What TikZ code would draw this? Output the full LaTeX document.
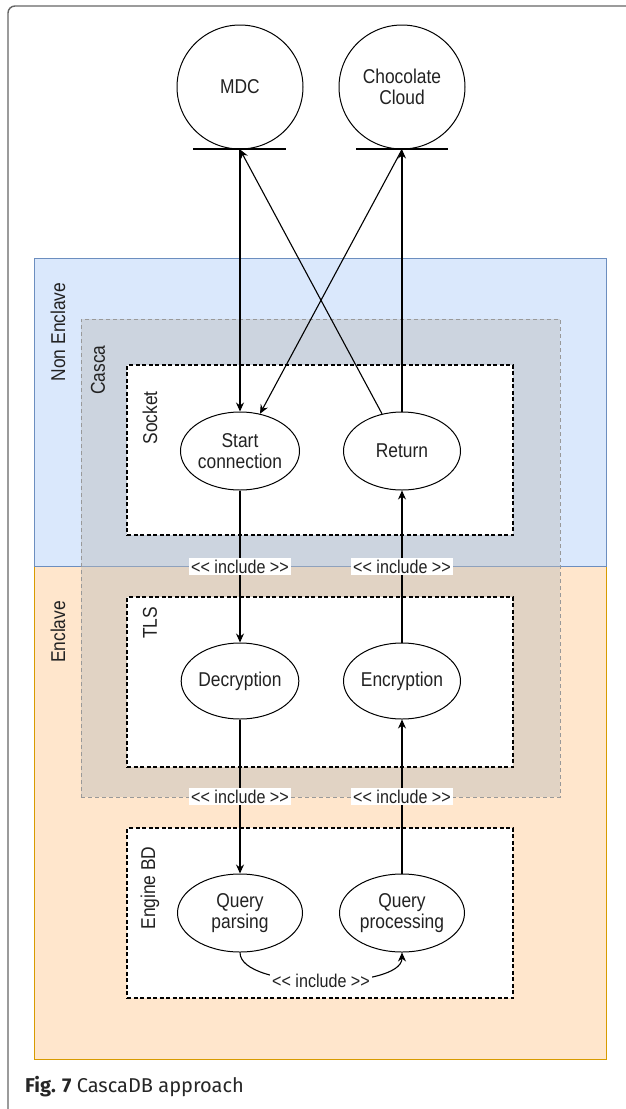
\documentclass[tikz,border=0pt]{standalone}
\usepackage{fontspec}
\setmainfont{Liberation Sans}
\newfontfamily\capfont{Fira Sans}
\usetikzlibrary{shapes.geometric,arrows.meta}

\definecolor{nonfill}{HTML}{DAE8FC}
\definecolor{nonline}{HTML}{6C8EBF}
\definecolor{encfill}{HTML}{FFE6CC}
\definecolor{encline}{HTML}{D79B00}
\definecolor{cascagray}{HTML}{BBBBBB}
\definecolor{cascaline}{HTML}{999999}
\definecolor{ink}{HTML}{222222}
\definecolor{framegray}{HTML}{666666}

% narrow diagram lettering
\newcommand{\dfont}[1]{\addfontfeature{FakeStretch=0.87}\fontsize{#1}{#1}\selectfont}
\newcommand{\incltext}{<{}< include >{}>}

\tikzset{
  region/.style={draw, line width=1pt, inner sep=0pt},
  cascabox/.style={draw=cascaline, fill=cascagray, fill opacity=0.43,
    dash pattern=on 4pt off 3pt, line width=1pt, inner sep=0pt},
  pkgbox/.style={draw=black, fill=white, dash pattern=on 4pt off 2.5pt,
    line width=1.2pt, inner sep=0pt},
  usecase/.style={ellipse, draw=black, fill=white, line width=1pt, inner sep=0pt,
    minimum width=117pt, minimum height=78pt, align=center, text=ink,
    font=\dfont{20}, execute at begin node=\setlength{\baselineskip}{21pt}},
  actor/.style={ellipse, draw=black, fill=white, line width=1pt, inner sep=0pt,
    minimum width=126pt, minimum height=124pt, align=center, text=ink,
    font=\dfont{20}, execute at begin node=\setlength{\baselineskip}{21pt}},
  sidelabel/.style={rotate=90, text=ink, font=\dfont{20}, inner sep=0pt},
  flow/.style={draw=black, line width=1.1pt, -{Stealth[length=9pt,width=8pt]}},
  incl/.style={fill=white, text=ink, inner sep=2pt, font=\dfont{18.5}}
}

\begin{document}
\begin{tikzpicture}[x=1pt, y=-1pt]
\useasboundingbox (0,0) rectangle (625,1109);
\fill[white] (0,0) rectangle (625,1109);

% figure frame
\draw[framegray, line width=1.4pt, rounded corners=7pt] (8,1125) -- (8,6) -- (640,6);

% execution regions
\node (enclave) [region, draw=encline, fill=encfill, minimum width=572pt, minimum height=493pt] at (320,812.5) {};
\node (nonenclave) [region, draw=nonline, fill=nonfill, minimum width=572pt, minimum height=308pt] at (320,412) {};

% Casca container
\node (casca) [cascabox, minimum width=479pt, minimum height=478pt] at (320.5,558) {};

% packages
\node (socket) [pkgbox, minimum width=386pt, minimum height=170pt] at (320,450) {};
\node (tls) [pkgbox, minimum width=386pt, minimum height=170pt] at (320,682) {};
\node (engine) [pkgbox, minimum width=386pt, minimum height=170pt] at (320,913) {};

% side labels
\node (lblnon) [sidelabel] at (58,332) {Non Enclave};
\node (lblenc) [sidelabel] at (58,632) {Enclave};
\node (lblcasca) [sidelabel] at (98,370) {Casca};
\node (lblsocket) [sidelabel] at (150,418) {Socket};
\node (lbltls) [sidelabel] at (150,623) {TLS};
\node (lblengine) [sidelabel] at (150,888) {Engine BD};

% actors
\node (mdc) [actor] at (240,87) {MDC};
\node (cloud) [actor] at (402,87) {Chocolate\\Cloud};
\draw[line width=1.1pt] (193,149) -- (286,149);
\draw[line width=1.1pt] (356,149) -- (448,149);

% use cases
\node (start) [usecase] at (240,451) {Start\\connection};
\node (ret) [usecase] at (402,451) {Return};
\node (dec) [usecase, minimum height=76pt] at (240,681) {Decryption};
\node (enc) [usecase, minimum height=76pt] at (402,681) {Encryption};
\node (qparse) [usecase, minimum width=125pt] at (240,913) {Query\\parsing};
\node (qproc) [usecase, minimum width=125pt] at (402,913) {Query\\processing};

% connections to the actors
\draw[flow] (mdc.south) -- (start.north);
\draw[flow] (cloud.south) -- (start);
\draw[flow] (ret) -- (mdc.south);
\draw[flow] (ret.north) -- (cloud.south);

% include relations
\draw[flow] (start.south) -- node[incl] {\incltext} (dec.north);
\draw[flow] (enc.north) -- node[incl] {\incltext} (ret.south);
\draw[flow] (dec.south) -- node[incl] {\incltext} (qparse.north);
\draw[flow] (qproc.north) -- node[incl] {\incltext} (enc.south);
\draw[flow] (qparse.south) .. controls (240,990) and (402,990) .. node[incl, pos=0.5] {\incltext} (qproc.south);

% caption
\node (caption) [anchor=west, inner sep=0pt, font=\capfont\fontsize{20}{22}\selectfont, text=black!85] at (25,1087)
  {\textbf{Fig. 7} CascaDB approach};
\end{tikzpicture}
\end{document}
